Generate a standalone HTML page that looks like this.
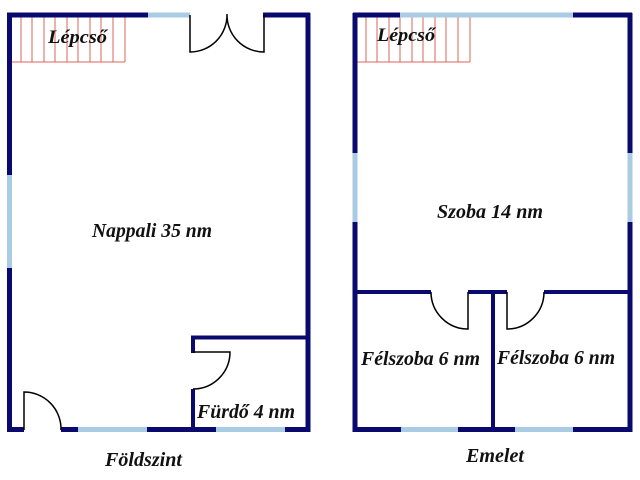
<!DOCTYPE html>
<html><head><meta charset="utf-8"><style>
html,body{margin:0;padding:0;background:#fff;width:640px;height:480px;overflow:hidden}
svg{display:block}
text{font-family:"Liberation Serif",serif;font-weight:bold;font-style:italic;fill:#111}
</style></head><body>
<svg width="640" height="480" viewBox="0 0 640 480">
<g stroke-linecap="butt" fill="none">
<g stroke="#d9645a" stroke-width="1">
<line x1="12" y1="62" x2="125" y2="62"/>
<line x1="21" y1="17" x2="21" y2="62"/><line x1="32" y1="17" x2="32" y2="62"/><line x1="44" y1="17" x2="44" y2="62"/><line x1="55" y1="17" x2="55" y2="62"/><line x1="67" y1="17" x2="67" y2="62"/><line x1="78" y1="17" x2="78" y2="62"/><line x1="90" y1="17" x2="90" y2="62"/><line x1="101" y1="17" x2="101" y2="62"/><line x1="113" y1="17" x2="113" y2="62"/><line x1="125" y1="17" x2="125" y2="62"/>
</g>
<g stroke="#d9645a" stroke-width="1">
<line x1="357" y1="62" x2="470" y2="62"/>
<line x1="366" y1="17" x2="366" y2="62"/><line x1="377" y1="17" x2="377" y2="62"/><line x1="389" y1="17" x2="389" y2="62"/><line x1="400" y1="17" x2="400" y2="62"/><line x1="412" y1="17" x2="412" y2="62"/><line x1="423" y1="17" x2="423" y2="62"/><line x1="435" y1="17" x2="435" y2="62"/><line x1="446" y1="17" x2="446" y2="62"/><line x1="458" y1="17" x2="458" y2="62"/><line x1="470" y1="17" x2="470" y2="62"/>
</g>
<g stroke="#0a0a6e" stroke-width="5">
<line x1="7" y1="15" x2="148" y2="15"/>
<line x1="263" y1="15" x2="310" y2="15"/>
<line x1="308" y1="13" x2="308" y2="432"/>
<line x1="9.5" y1="13" x2="9.5" y2="175"/>
<line x1="9.5" y1="268" x2="9.5" y2="432"/>
<line x1="7" y1="429.5" x2="24" y2="429.5"/>
<line x1="61" y1="429.5" x2="78" y2="429.5"/>
<line x1="147" y1="429.5" x2="216" y2="429.5"/>
<line x1="285" y1="429.5" x2="310" y2="429.5"/>
</g>
<g stroke="#0a0a6e" stroke-width="4">
<line x1="191" y1="337.5" x2="308" y2="337.5"/>
<line x1="193" y1="336" x2="193" y2="353"/>
<line x1="193" y1="389" x2="193" y2="430"/>
</g>
<g stroke="#a9cbe3" stroke-width="5">
<line x1="148" y1="15" x2="190" y2="15"/>
<line x1="9.5" y1="175" x2="9.5" y2="268"/>
<line x1="78" y1="429.5" x2="147" y2="429.5"/>
<line x1="216" y1="429.5" x2="285" y2="429.5"/>
</g>
<g stroke="#000" stroke-width="1.5">
<path d="M190 15 V52 A37 37 0 0 0 227 14 A37 37 0 0 0 264 52 V15"/>
<path d="M193 352 H230 A37 37 0 0 1 193 389"/>
<path d="M24 430 V392 A37 37 0 0 1 61 430"/>
</g>
<g stroke="#0a0a6e" stroke-width="5">
<line x1="353" y1="15" x2="400" y2="15"/>
<line x1="573" y1="15" x2="632" y2="15"/>
<line x1="355" y1="13" x2="355" y2="153"/>
<line x1="355" y1="222" x2="355" y2="432"/>
<line x1="630" y1="13" x2="630" y2="153"/>
<line x1="630" y1="222" x2="630" y2="432"/>
<line x1="353" y1="429.5" x2="401" y2="429.5"/>
<line x1="458" y1="429.5" x2="515" y2="429.5"/>
<line x1="573" y1="429.5" x2="632" y2="429.5"/>
</g>
<g stroke="#0a0a6e" stroke-width="4">
<line x1="355" y1="292" x2="431" y2="292"/>
<line x1="468" y1="292" x2="507" y2="292"/>
<line x1="544" y1="292" x2="630" y2="292"/>
<line x1="493" y1="292" x2="493" y2="430"/>
</g>
<g stroke="#a9cbe3" stroke-width="5">
<line x1="400" y1="15" x2="573" y2="15"/>
<line x1="355" y1="153" x2="355" y2="222"/>
<line x1="630" y1="153" x2="630" y2="222"/>
<line x1="401" y1="429.5" x2="458" y2="429.5"/>
<line x1="515" y1="429.5" x2="573" y2="429.5"/>
</g>
<g stroke="#000" stroke-width="1.5">
<path d="M431 292 A37 37 0 0 0 468 329 V292"/>
<path d="M507 292 V329 A37 37 0 0 0 544 292"/>
</g>
</g>
<text x="48" y="43" font-size="19" textLength="59" lengthAdjust="spacingAndGlyphs">Lépcső</text>
<text x="377" y="41" font-size="19" textLength="58" lengthAdjust="spacingAndGlyphs">Lépcső</text>
<text x="92" y="237" font-size="20" textLength="120" lengthAdjust="spacingAndGlyphs">Nappali 35 nm</text>
<text x="197" y="418" font-size="20" textLength="98" lengthAdjust="spacingAndGlyphs">Fürdő 4 nm</text>
<text x="105" y="466" font-size="20" textLength="77" lengthAdjust="spacingAndGlyphs">Földszint</text>
<text x="437" y="218" font-size="20" textLength="106" lengthAdjust="spacingAndGlyphs">Szoba 14 nm</text>
<text x="361" y="365" font-size="20" textLength="119" lengthAdjust="spacingAndGlyphs">Félszoba 6 nm</text>
<text x="497" y="364" font-size="20" textLength="118" lengthAdjust="spacingAndGlyphs">Félszoba 6 nm</text>
<text x="466" y="462" font-size="20" textLength="58" lengthAdjust="spacingAndGlyphs">Emelet</text>
</svg>
</body></html>
